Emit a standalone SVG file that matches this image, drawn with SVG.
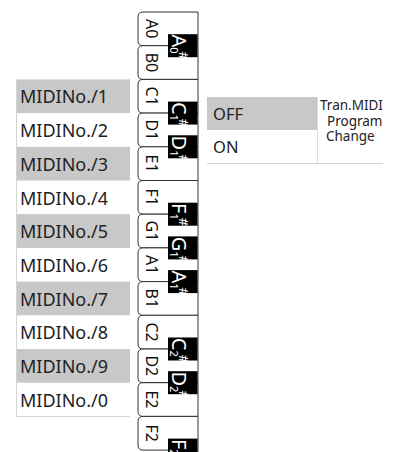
<svg xmlns="http://www.w3.org/2000/svg" width="409" height="452" viewBox="0 0 409 452">
<style>
.wk{fill:#fff;stroke:#333;stroke-width:1}
.bk{fill:#000}
.wl{font-family:"Noto Sans",sans-serif;font-size:16px;fill:#111;text-anchor:middle}
.bl{font-family:"Noto Sans",sans-serif;font-size:20px;fill:#fff}
.sub{font-size:11px}
.sh{font-size:13px}
.row{font-family:"Noto Sans",sans-serif;font-size:18px;fill:#222}
.g{fill:#c8c8c8}
.sm{font-family:"Noto Sans",sans-serif;font-size:13.5px;fill:#222}
.op{font-family:"Noto Sans",sans-serif;font-size:16.5px;fill:#222}
</style>
<rect width="409" height="452" fill="#fff"/>
<g id="midi-list">
<rect class="g" x="16" y="79.4" width="114" height="33.7"/>
<rect class="g" x="16" y="146.8" width="114" height="33.7"/>
<rect class="g" x="16" y="214.2" width="114" height="33.7"/>
<rect class="g" x="16" y="281.6" width="114" height="33.7"/>
<rect class="g" x="16" y="349" width="114" height="33.7"/>
<path d="M16.5,79.4 V416.5 H130" fill="none" stroke="#d4d4d4" stroke-width="1"/>
<text class="row" x="20" y="103.4">MIDINo./1</text>
<text class="row" x="20" y="137.1">MIDINo./2</text>
<text class="row" x="20" y="170.8">MIDINo./3</text>
<text class="row" x="20" y="204.5">MIDINo./4</text>
<text class="row" x="20" y="238.2">MIDINo./5</text>
<text class="row" x="20" y="271.9">MIDINo./6</text>
<text class="row" x="20" y="305.6">MIDINo./7</text>
<text class="row" x="20" y="339.3">MIDINo./8</text>
<text class="row" x="20" y="373">MIDINo./9</text>
<text class="row" x="20" y="406.7">MIDINo./0</text>
</g>
<g id="keyboard">
<g id="white-keys">
<path class="wk" d="M198,12 H143 Q138,12 138,17 V40.7 Q138,45.7 143,45.7 H198"/>
<path class="wk" d="M198,45.7 H143 Q138,45.7 138,50.7 V74.4 Q138,79.4 143,79.4 H198"/>
<path class="wk" d="M198,79.4 H143 Q138,79.4 138,84.4 V108.1 Q138,113.1 143,113.1 H198"/>
<path class="wk" d="M198,113.1 H143 Q138,113.1 138,118.1 V141.8 Q138,146.8 143,146.8 H198"/>
<path class="wk" d="M198,146.8 H143 Q138,146.8 138,151.8 V175.5 Q138,180.5 143,180.5 H198"/>
<path class="wk" d="M198,180.5 H143 Q138,180.5 138,185.5 V209.2 Q138,214.2 143,214.2 H198"/>
<path class="wk" d="M198,214.2 H143 Q138,214.2 138,219.2 V242.9 Q138,247.9 143,247.9 H198"/>
<path class="wk" d="M198,247.9 H143 Q138,247.9 138,252.9 V276.6 Q138,281.6 143,281.6 H198"/>
<path class="wk" d="M198,281.6 H143 Q138,281.6 138,286.6 V310.3 Q138,315.3 143,315.3 H198"/>
<path class="wk" d="M198,315.3 H143 Q138,315.3 138,320.3 V344 Q138,349 143,349 H198"/>
<path class="wk" d="M198,349 H143 Q138,349 138,354 V377.7 Q138,382.7 143,382.7 H198"/>
<path class="wk" d="M198,382.7 H143 Q138,382.7 138,387.7 V411.4 Q138,416.4 143,416.4 H198"/>
<path class="wk" d="M198,416.4 H143 Q138,416.4 138,421.4 V445.1 Q138,450.1 143,450.1 H198"/>
<line x1="198" y1="12" x2="198" y2="452" stroke="#333" stroke-width="1"/>
<text class="wl" transform="translate(146,28.8) rotate(90)">A0</text>
<text class="wl" transform="translate(146,62.5) rotate(90)">B0</text>
<text class="wl" transform="translate(146,96.2) rotate(90)">C1</text>
<text class="wl" transform="translate(146,129.9) rotate(90)">D1</text>
<text class="wl" transform="translate(146,163.6) rotate(90)">E1</text>
<text class="wl" transform="translate(146,197.3) rotate(90)">F1</text>
<text class="wl" transform="translate(146,231) rotate(90)">G1</text>
<text class="wl" transform="translate(146,264.7) rotate(90)">A1</text>
<text class="wl" transform="translate(146,298.4) rotate(90)">B1</text>
<text class="wl" transform="translate(146,332.1) rotate(90)">C2</text>
<text class="wl" transform="translate(146,365.8) rotate(90)">D2</text>
<text class="wl" transform="translate(146,399.5) rotate(90)">E2</text>
<text class="wl" transform="translate(146,433.2) rotate(90)">F2</text>
</g>
<g id="black-keys">
<rect class="bk" x="168" y="34.2" width="29.5" height="23"/>
<rect class="bk" x="168" y="101.6" width="29.5" height="23"/>
<rect class="bk" x="168" y="135.3" width="29.5" height="23"/>
<rect class="bk" x="168" y="202.7" width="29.5" height="23"/>
<rect class="bk" x="168" y="236.4" width="29.5" height="23"/>
<rect class="bk" x="168" y="270.1" width="29.5" height="23"/>
<rect class="bk" x="168" y="337.5" width="29.5" height="23"/>
<rect class="bk" x="168" y="371.2" width="29.5" height="23"/>
<rect class="bk" x="168" y="438.6" width="29.5" height="23"/>
<text class="bl" transform="translate(172,34.5) rotate(90)">A<tspan class="sub" dy="2">0</tspan><tspan class="sh" dx="-2" dy="-9">#</tspan></text>
<text class="bl" transform="translate(172,101.9) rotate(90)">C<tspan class="sub" dy="2">1</tspan><tspan class="sh" dx="-2" dy="-9">#</tspan></text>
<text class="bl" transform="translate(172,135.6) rotate(90)">D<tspan class="sub" dy="2">1</tspan><tspan class="sh" dx="-2" dy="-9">#</tspan></text>
<text class="bl" transform="translate(172,203) rotate(90)">F<tspan class="sub" dy="2">1</tspan><tspan class="sh" dx="-2" dy="-9">#</tspan></text>
<text class="bl" transform="translate(172,236.7) rotate(90)">G<tspan class="sub" dy="2">1</tspan><tspan class="sh" dx="-2" dy="-9">#</tspan></text>
<text class="bl" transform="translate(172,270.4) rotate(90)">A<tspan class="sub" dy="2">1</tspan><tspan class="sh" dx="-2" dy="-9">#</tspan></text>
<text class="bl" transform="translate(172,337.8) rotate(90)">C<tspan class="sub" dy="2">2</tspan><tspan class="sh" dx="-2" dy="-9">#</tspan></text>
<text class="bl" transform="translate(172,371.5) rotate(90)">D<tspan class="sub" dy="2">2</tspan><tspan class="sh" dx="-2" dy="-9">#</tspan></text>
<text class="bl" transform="translate(172,438.9) rotate(90)">F<tspan class="sub" dy="2">2</tspan><tspan class="sh" dx="-2" dy="-9">#</tspan></text>
</g>
</g>
<g id="tran-midi">
<rect class="g" x="207" y="97" width="110" height="33"/>
<line x1="317.5" y1="97" x2="317.5" y2="163" stroke="#dcdcdc"/>
<line x1="207" y1="163.5" x2="383" y2="163.5" stroke="#d4d4d4"/>
<text class="op" x="213" y="119.5">OFF</text>
<text class="op" x="213" y="152.5">ON</text>
<text class="sm" x="320" y="110">Tran.MIDI</text>
<text class="sm" x="327" y="125.5">Program</text>
<text class="sm" x="326" y="141">Change</text>
</g>
</svg>
